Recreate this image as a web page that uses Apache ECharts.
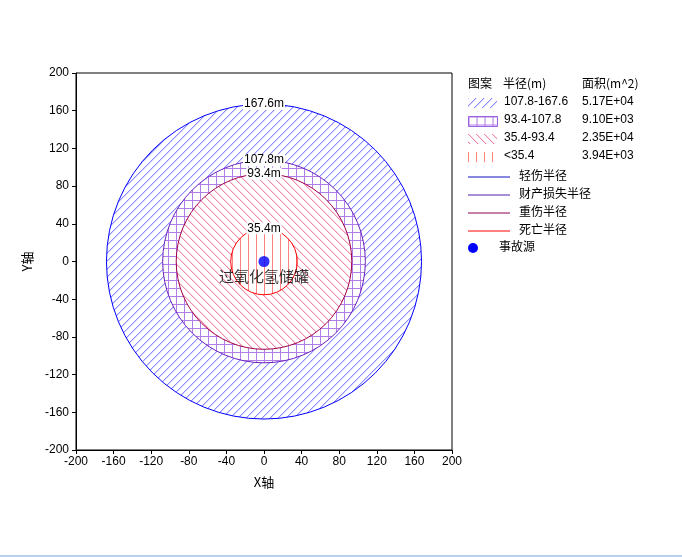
<!DOCTYPE html>
<html>
<head>
<meta charset="utf-8">
<script src="https://cdn.jsdelivr.net/npm/echarts@6/dist/echarts.min.js"></script>
<style>
  html, body { margin: 0; padding: 0; background: #fff; }
  #chart { width: 682px; height: 557px; }
</style>
</head>
<body>
<div id="chart"></div>
<script>
// 各危害半径 (m)，由外到内
const radii = [167.6, 107.8, 93.4, 35.4];
const radiusLabels = ['167.6m', '107.8m', '93.4m', '35.4m'];
const rangeLabels = ['107.8-167.6', '93.4-107.8', '35.4-93.4', '<35.4'];
const areaLabels = ['5.17E+04', '9.10E+03', '2.35E+04', '3.94E+03'];
const lineNames = ['轻伤半径', '财产损失半径', '重伤半径', '死亡半径'];
const sourcePoint = [0, 0];
const sourceName = '过氧化氢储罐';
const sourceLegend = '事故源';
const axisMin = -200;
const axisMax = 200;
const axisStep = 40;

const borderColors = ['#0000ff', '#6a1fc0', '#a0004a', '#ff0000'];
const legendLineColors = ['#1010c0', '#5020b0', '#900050', '#ff0000'];

const FONT_NUM = '12px "Liberation Sans", "DejaVu Sans", sans-serif';
const FONT_CJK = '12px "Noto Sans CJK SC", sans-serif';

// 填充图案 (两种色调模拟原图的抖动线)
function makePattern(kind, color, soft, size) {
    const cv = document.createElement('canvas');
    cv.width = size; cv.height = size;
    const ctx = cv.getContext('2d');
    ctx.fillStyle = '#ffffff';
    ctx.fillRect(0, 0, size, size);
    for (let k = 0; k < size; k++) {
        if (kind === 'slash') {
            ctx.fillStyle = soft; ctx.fillRect((k + 1) % size, size - 1 - k, 1, 1);
            ctx.fillStyle = color; ctx.fillRect(k, size - 1 - k, 1, 1);
        } else if (kind === 'back') {
            ctx.fillStyle = soft; ctx.fillRect((k + 1) % size, k, 1, 1);
            ctx.fillStyle = color; ctx.fillRect(k, k, 1, 1);
        } else if (kind === 'grid') {
            ctx.fillStyle = color; ctx.fillRect(k, 0, 1, 1); ctx.fillRect(0, k, 1, 1);
        } else if (kind === 'vert') {
            ctx.fillStyle = color; ctx.fillRect(0, k, 1, 1);
        }
    }
    return { image: cv, repeat: 'repeat' };
}

const patterns = [
    makePattern('slash', '#8888ff', '#d4d4ff', 8),
    makePattern('grid', '#b07ee8', null, 8),
    makePattern('back', '#ee8cac', '#fad6e2', 8),
    makePattern('vert', '#ff8080', null, 8)
];

const circleData = radii.map(r => [sourcePoint[0], sourcePoint[1], r]);

// 图例
const legendX = 468;
const legendGraphics = [
    { type: 'text', left: legendX, top: 77, style: { text: '图案', font: FONT_CJK, fill: '#000' } },
    { type: 'text', left: 503, top: 77, style: { text: '半径(m)', font: FONT_CJK, fill: '#000' } },
    { type: 'text', left: 582, top: 77, style: { text: '面积(m^2)', font: FONT_CJK, fill: '#000' } }
];
rangeLabels.forEach((txt, i) => {
    const y = 103 + i * 18;
    legendGraphics.push({
        type: 'rect', left: legendX, top: y - 5,
        shape: { width: 29, height: 10 },
        style: { fill: patterns[i], stroke: i === 1 ? '#9a60e0' : null, lineWidth: 1 }
    });
    legendGraphics.push({ type: 'text', left: 504, top: y - 7, style: { text: txt, font: FONT_NUM, fill: '#000' } });
    legendGraphics.push({ type: 'text', left: 582, top: y - 7, style: { text: areaLabels[i], font: FONT_NUM, fill: '#000' } });
});
lineNames.forEach((txt, i) => {
    const y = 177 + i * 18;
    legendGraphics.push({
        type: 'line', shape: { x1: legendX, y1: y, x2: 510, y2: y },
        style: { stroke: legendLineColors[i], lineWidth: 1 }
    });
    legendGraphics.push({ type: 'text', left: 519, top: y - 8, style: { text: txt, font: FONT_CJK, fill: '#000' } });
});
legendGraphics.push({ type: 'circle', shape: { cx: 473, cy: 248, r: 5 }, style: { fill: '#0000ff' } });
legendGraphics.push({ type: 'text', left: 499, top: 240, style: { text: sourceLegend, font: FONT_CJK, fill: '#000' } });
legendGraphics.push({ type: 'rect', shape: { x: 0, y: 555, width: 682, height: 2 }, style: { fill: '#b8d0f0' } });

const axisCommon = {
    type: 'value',
    min: axisMin, max: axisMax, interval: axisStep,
    axisLine: { show: true, onZero: false, lineStyle: { color: '#000', width: 1 } },
    axisTick: { show: true, inside: false, length: 4, lineStyle: { color: '#000' } },
    axisLabel: { color: '#000', fontSize: 12, fontFamily: '"Liberation Sans", "DejaVu Sans", sans-serif' },
    splitLine: { show: false },
    nameLocation: 'middle',
    nameTextStyle: { color: '#000', fontSize: 13, fontFamily: '"Noto Sans CJK SC", sans-serif' }
};

const chart = echarts.init(document.getElementById('chart'), null, { renderer: 'canvas' });
chart.setOption({
    animation: false,
    backgroundColor: '#fff',
    grid: {
        left: 76, top: 73, width: 376, height: 377,
        show: true, borderColor: '#000', borderWidth: 1, backgroundColor: 'transparent'
    },
    xAxis: Object.assign({}, axisCommon, {
        name: 'X轴', nameGap: 26,
        axisLabel: Object.assign({}, axisCommon.axisLabel, { margin: 6 })
    }),
    yAxis: Object.assign({}, axisCommon, {
        name: 'Y轴', nameGap: 42, nameRotate: 90,
        axisLabel: Object.assign({}, axisCommon.axisLabel, { margin: 7 })
    }),
    graphic: legendGraphics,
    series: [
        {
            type: 'custom',
            coordinateSystem: 'cartesian2d',
            data: circleData,
            clip: false,
            renderItem: function (params, api) {
                const i = params.dataIndex;
                const c = api.coord([api.value(0), api.value(1)]);
                const rp = api.size([api.value(2), 0])[0];
                return {
                    type: 'group',
                    children: [
                        {
                            type: 'circle',
                            z2: i,
                            shape: { cx: c[0], cy: c[1], r: rp },
                            style: { fill: patterns[i], stroke: borderColors[i], lineWidth: 1 }
                        },
                        {
                            type: 'text',
                            z2: 50,
                            x: c[0], y: c[1] - rp,
                            style: {
                                text: radiusLabels[i], font: FONT_NUM, fill: '#000',
                                align: 'center', verticalAlign: 'middle',
                                backgroundColor: '#fff', padding: [0, 1]
                            }
                        }
                    ]
                };
            },
            z: 2
        },
        {
            type: 'scatter',
            data: [sourcePoint],
            symbol: 'circle',
            symbolSize: 11,
            itemStyle: { color: '#0000ff' },
            label: {
                show: true, position: 'bottom', distance: 2,
                formatter: sourceName,
                color: '#000', fontSize: 15,
                fontFamily: '"Noto Sans CJK SC", sans-serif'
            },
            z: 5
        }
    ]
});
</script>
</body>
</html>
